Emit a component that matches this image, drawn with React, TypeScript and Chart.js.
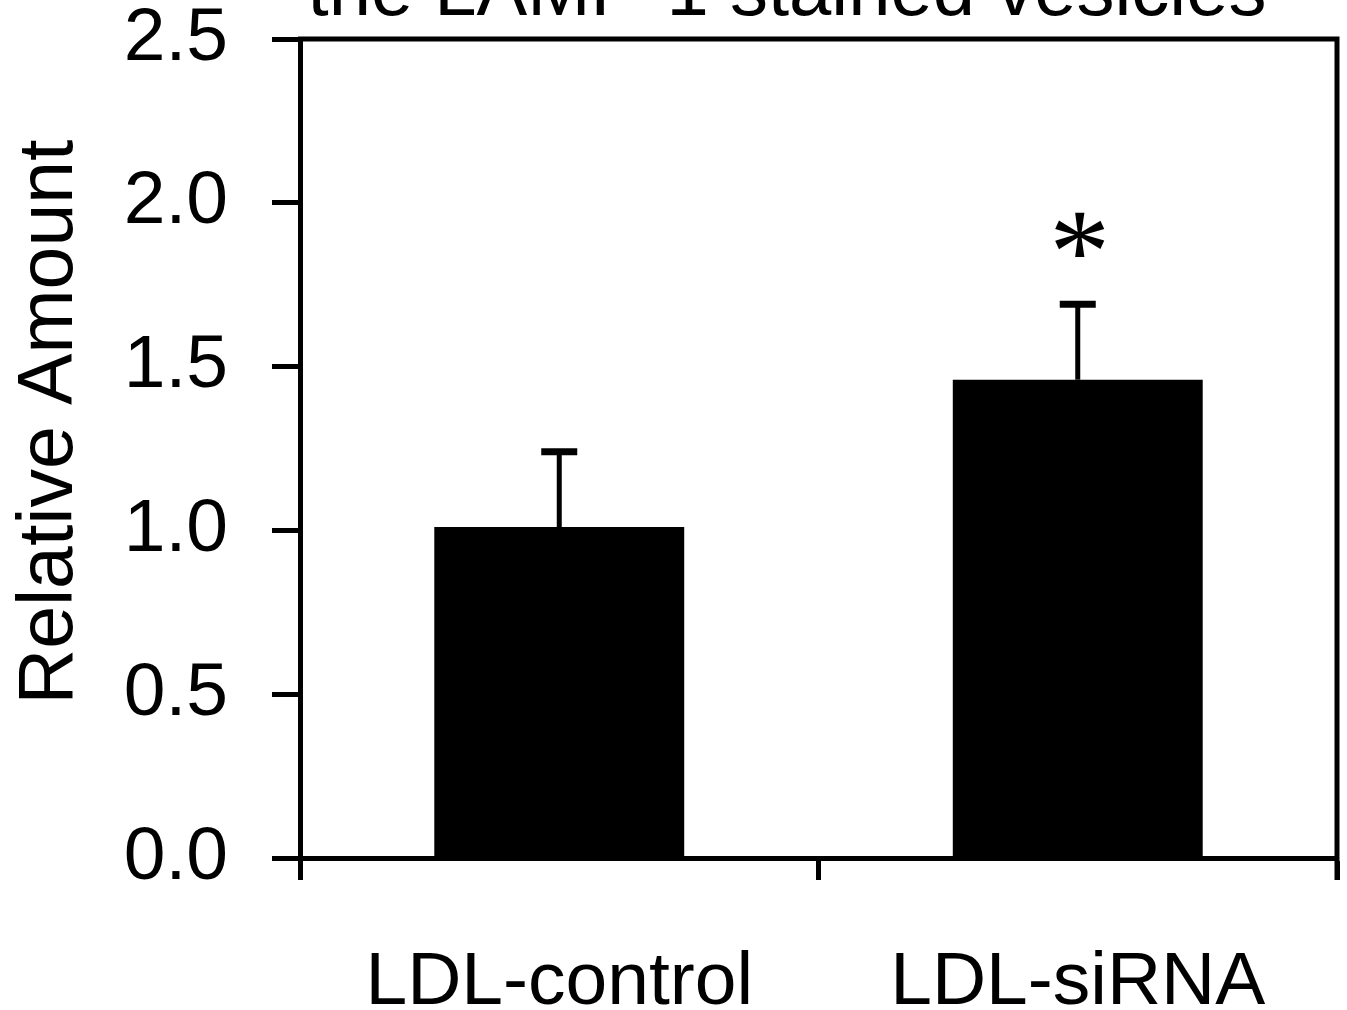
import React, { useEffect, useRef } from "react";
import { Chart, registerables } from "chart.js";

Chart.register(...registerables);

const categories = ["LDL-control", "LDL-siRNA"];
const values = [1.01, 1.46];
const errors = [0.23, 0.23];
const significance = ["", "*"];
const yTickValues = [0, 0.5, 1.0, 1.5, 2.0, 2.5];
const titleText = "the LAMP-1 stained vesicles";
const yTitle = "Relative Amount";

const FONT = "'Liberation Sans', Arial, Helvetica, sans-serif";
const FS = 75;

const frameAndErrors = {
  id: "frameAndErrors",
  afterDatasetsDraw(chart: any) {
    const ctx = chart.ctx;
    const { left, right, top, bottom } = chart.chartArea;
    const yScale = chart.scales.y;
    const meta = chart.getDatasetMeta(0);
    ctx.save();
    ctx.strokeStyle = "#000";
    ctx.fillStyle = "#000";
    // error bars (upper only)
    meta.data.forEach((el: any, i: number) => {
      const yTop = yScale.getPixelForValue(values[i] + errors[i]);
      ctx.lineWidth = 5;
      ctx.beginPath();
      ctx.moveTo(el.x, el.y);
      ctx.lineTo(el.x, yTop);
      ctx.stroke();
      ctx.lineWidth = 7;
      ctx.beginPath();
      ctx.moveTo(el.x - 18, yTop);
      ctx.lineTo(el.x + 18, yTop);
      ctx.stroke();
      if (significance[i]) {
        ctx.font = `100px 'Liberation Serif', 'Times New Roman', serif`;
        const m0 = ctx.measureText(significance[i]);
        const h0 = m0.actualBoundingBoxAscent + m0.actualBoundingBoxDescent;
        const size = h0 > 0 ? (100 * 45) / h0 : 100;
        ctx.font = `${size}px 'Liberation Serif', 'Times New Roman', serif`;
        const m = ctx.measureText(significance[i]);
        ctx.textAlign = "center";
        ctx.textBaseline = "alphabetic";
        const cy = yTop - 70;
        const base = cy + (m.actualBoundingBoxAscent - m.actualBoundingBoxDescent) / 2;
        ctx.fillText(significance[i], el.x + 2, base);
      }
    });
    // frame: top and right
    ctx.lineWidth = 5;
    ctx.beginPath();
    ctx.moveTo(left - 2, top);
    ctx.lineTo(right, top);
    ctx.lineTo(right, bottom + 22);
    ctx.stroke();
    // cut-off title
    ctx.font = `76px ${FONT}`;
    ctx.textAlign = "center";
    ctx.textBaseline = "alphabetic";
    ctx.fillText(titleText, 787, 15);
    // y axis title
    ctx.save();
    ctx.font = `77px ${FONT}`;
    ctx.translate(72, 422);
    ctx.rotate(-Math.PI / 2);
    ctx.textAlign = "center";
    ctx.textBaseline = "alphabetic";
    ctx.fillText(yTitle, 0, 0);
    ctx.restore();
    ctx.restore();
  },
};

export default function App() {
  const ref = useRef<HTMLCanvasElement | null>(null);
  useEffect(() => {
    document.body.style.margin = "0";
    const chart = new Chart(ref.current as HTMLCanvasElement, {
      type: "bar",
      data: {
        labels: categories,
        datasets: [
          {
            data: values,
            backgroundColor: "#000",
            borderWidth: 0,
            barPercentage: 0.482,
            categoryPercentage: 1,
          },
        ],
      },
      options: {
        animation: false,
        responsive: false,
        maintainAspectRatio: false,
        layout: { padding: { top: 39, right: 10, bottom: 0, left: 0 } },
        plugins: {
          legend: { display: false },
          tooltip: { enabled: false },
          title: { display: false },
        },
        scales: {
          x: {
            offset: true,
            grid: {
              offset: true,
              drawOnChartArea: false,
              drawTicks: true,
              tickLength: 22,
              tickWidth: 5,
              color: "#000",
            },
            border: { display: true, color: "#000", width: 5 },
            ticks: {
              color: "#000",
              padding: 66,
              font: { family: FONT, size: FS, lineHeight: 1 },
              maxRotation: 0,
              autoSkip: false,
            },
            afterFit: (s: any) => {
              s.height = 152;
              s.paddingLeft = 0;
              s.paddingRight = 0;
            },
          },
          y: {
            min: 0,
            max: 2.5,
            afterBuildTicks: (s: any) => {
              s.ticks = yTickValues.map((v) => ({ value: v }));
            },
            grid: {
              drawOnChartArea: false,
              drawTicks: true,
              tickLength: 28,
              tickWidth: 5,
              color: "#000",
            },
            border: { display: true, color: "#000", width: 5 },
            ticks: {
              color: "#000",
              padding: 44,
              font: { family: FONT, size: FS, lineHeight: 1 },
              callback: (v: any) => Number(v).toFixed(1),
            },
            title: { display: false },
            afterFit: (s: any) => {
              s.width = 300;
              s.paddingTop = 0;
              s.paddingBottom = 0;
            },
          },
        },
      },
      plugins: [frameAndErrors],
    });
    return () => chart.destroy();
  }, []);
  return (
    <div style={{ position: "fixed", left: 0, top: 0, width: 1347, height: 1010, background: "#fff" }}>
      <canvas ref={ref} width={1347} height={1010} style={{ width: 1347, height: 1010 }} />
    </div>
  );
}
